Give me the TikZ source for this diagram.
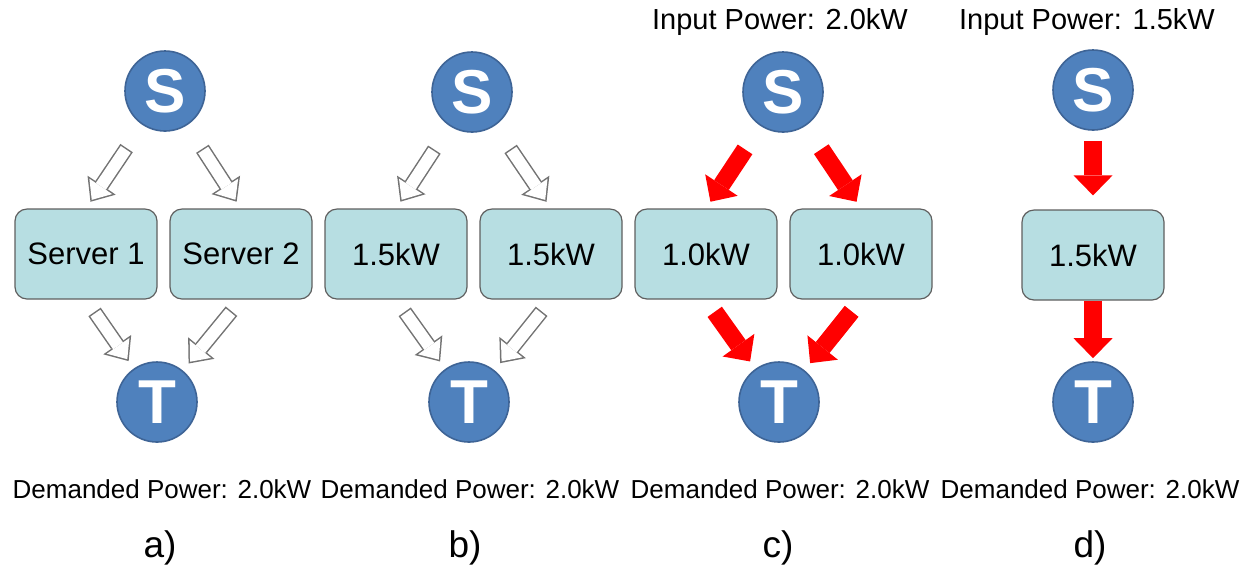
\documentclass[tikz,border=0pt]{standalone}
\usepackage{fontspec}
\setmainfont{Liberation Sans}
\usetikzlibrary{arrows.meta}

\definecolor{nodeblue}{RGB}{79,129,189}
\definecolor{nodeedge}{RGB}{62,100,150}
\definecolor{boxfill}{RGB}{183,222,226}
\definecolor{boxedge}{RGB}{95,95,95}
\definecolor{arrgray}{RGB}{115,115,115}

\tikzset{
  term/.style={circle, fill=nodeblue, draw=nodeedge, line width=0.8pt, minimum size=40pt, inner sep=0pt, text=white, font=\fontsize{31}{31}\selectfont\bfseries},
  server/.style={rectangle, rounded corners=6pt, fill=boxfill, draw=boxedge, line width=0.6pt, minimum width=71pt, minimum height=45pt, font=\fontsize{15.5}{18}\selectfont},
  hollow/.style 2 args={draw=white, line width=6pt, shorten <=#1+0.75pt, shorten >=#2+1.16pt,
    -{Triangle[width=13.75pt,length=8.1pt,line width=0pt]},
    preaction={draw=arrgray, line width=7.5pt, shorten <=#1, shorten >=#2, -{Triangle[width=17pt,length=10pt,line width=0pt]}}},
  redarr/.style 2 args={draw=red, line width=8.8pt, shorten <=#1, shorten >=#2, -{Triangle[width=19.5pt,length=10pt,line width=0pt]}},
  demand/.style={font=\fontsize{13}{15}\selectfont},
  inpower/.style={font=\fontsize{14.5}{17}\selectfont},
  caption/.style={font=\fontsize{18.5}{22}\selectfont}
}

\begin{document}
\begin{tikzpicture}[x=0.5pt, y=-0.5pt]
    \useasboundingbox (0,0) rectangle (1240,570);

    % a) two servers, plain flow
    \node [term] (Sa) at (165,91) {S};
    \node [server] (Aa1) at (86,254) {Server 1};
    \node [server] (Aa2) at (241,254) {Server 2};
    \node [term] (Ta) at (157,402) {T};
    \draw [hollow={14pt}{4pt}] (Sa) -- (Aa1.north);
    \draw [hollow={14pt}{4pt}] (Sa) -- (Aa2.north);
    \draw [hollow={7.5pt}{4.5pt}] (Aa1.south) -- (Ta);
    \draw [hollow={7.5pt}{4.5pt}] (Aa2.south) -- (Ta);
    \node [demand] (Da) at (162,489) {Demanded Power: 2.0kW};
    \node [caption] (La) at (160,548) {a)};

    % b) both servers at 1.5kW
    \node [term] (Sb) at (472,92) {S};
    \node [server] (Ab1) at (396,254) {1.5kW};
    \node [server] (Ab2) at (551,254) {1.5kW};
    \node [term] (Tb) at (469,402) {T};
    \draw [hollow={14pt}{4pt}] (Sb) -- (Ab1.north);
    \draw [hollow={14pt}{4pt}] (Sb) -- (Ab2.north);
    \draw [hollow={7.5pt}{4.5pt}] (Ab1.south) -- (Tb);
    \draw [hollow={7.5pt}{4.5pt}] (Ab2.south) -- (Tb);
    \node [demand] (Db) at (470,489) {Demanded Power: 2.0kW};
    \node [caption] (Lb) at (465,548) {b)};

    % c) capped input, split evenly
    \node [inpower] (Ic) at (780,22) {Input Power: 2.0kW};
    \node [term] (Sc) at (783,92) {S};
    \node [server] (Ac1) at (706,254) {1.0kW};
    \node [server] (Ac2) at (861,254) {1.0kW};
    \node [term] (Tc) at (779,402) {T};
    \draw [redarr={14pt}{4pt}] (Sc) -- (Ac1.north);
    \draw [redarr={14pt}{4pt}] (Sc) -- (Ac2.north);
    \draw [redarr={7.5pt}{4.5pt}] (Ac1.south) -- (Tc);
    \draw [redarr={7.5pt}{4.5pt}] (Ac2.south) -- (Tc);
    \node [demand] (Dc) at (780,489) {Demanded Power: 2.0kW};
    \node [caption] (Lc) at (778,548) {c)};

    % d) single server
    \node [inpower] (Id) at (1087,22) {Input Power: 1.5kW};
    \node [term] (Sd) at (1093,90) {S};
    \node [server] (Ad) at (1093,255) {1.5kW};
    \node [term] (Td) at (1093,402) {T};
    \draw [redarr={5pt}{7pt}] (Sd) -- (Ad);
    \draw [redarr={0pt}{1.5pt}] (Ad) -- (Td);
    \node [demand] (Dd) at (1090,489) {Demanded Power: 2.0kW};
    \node [caption] (Ld) at (1090,548) {d)};
\end{tikzpicture}
\end{document}
